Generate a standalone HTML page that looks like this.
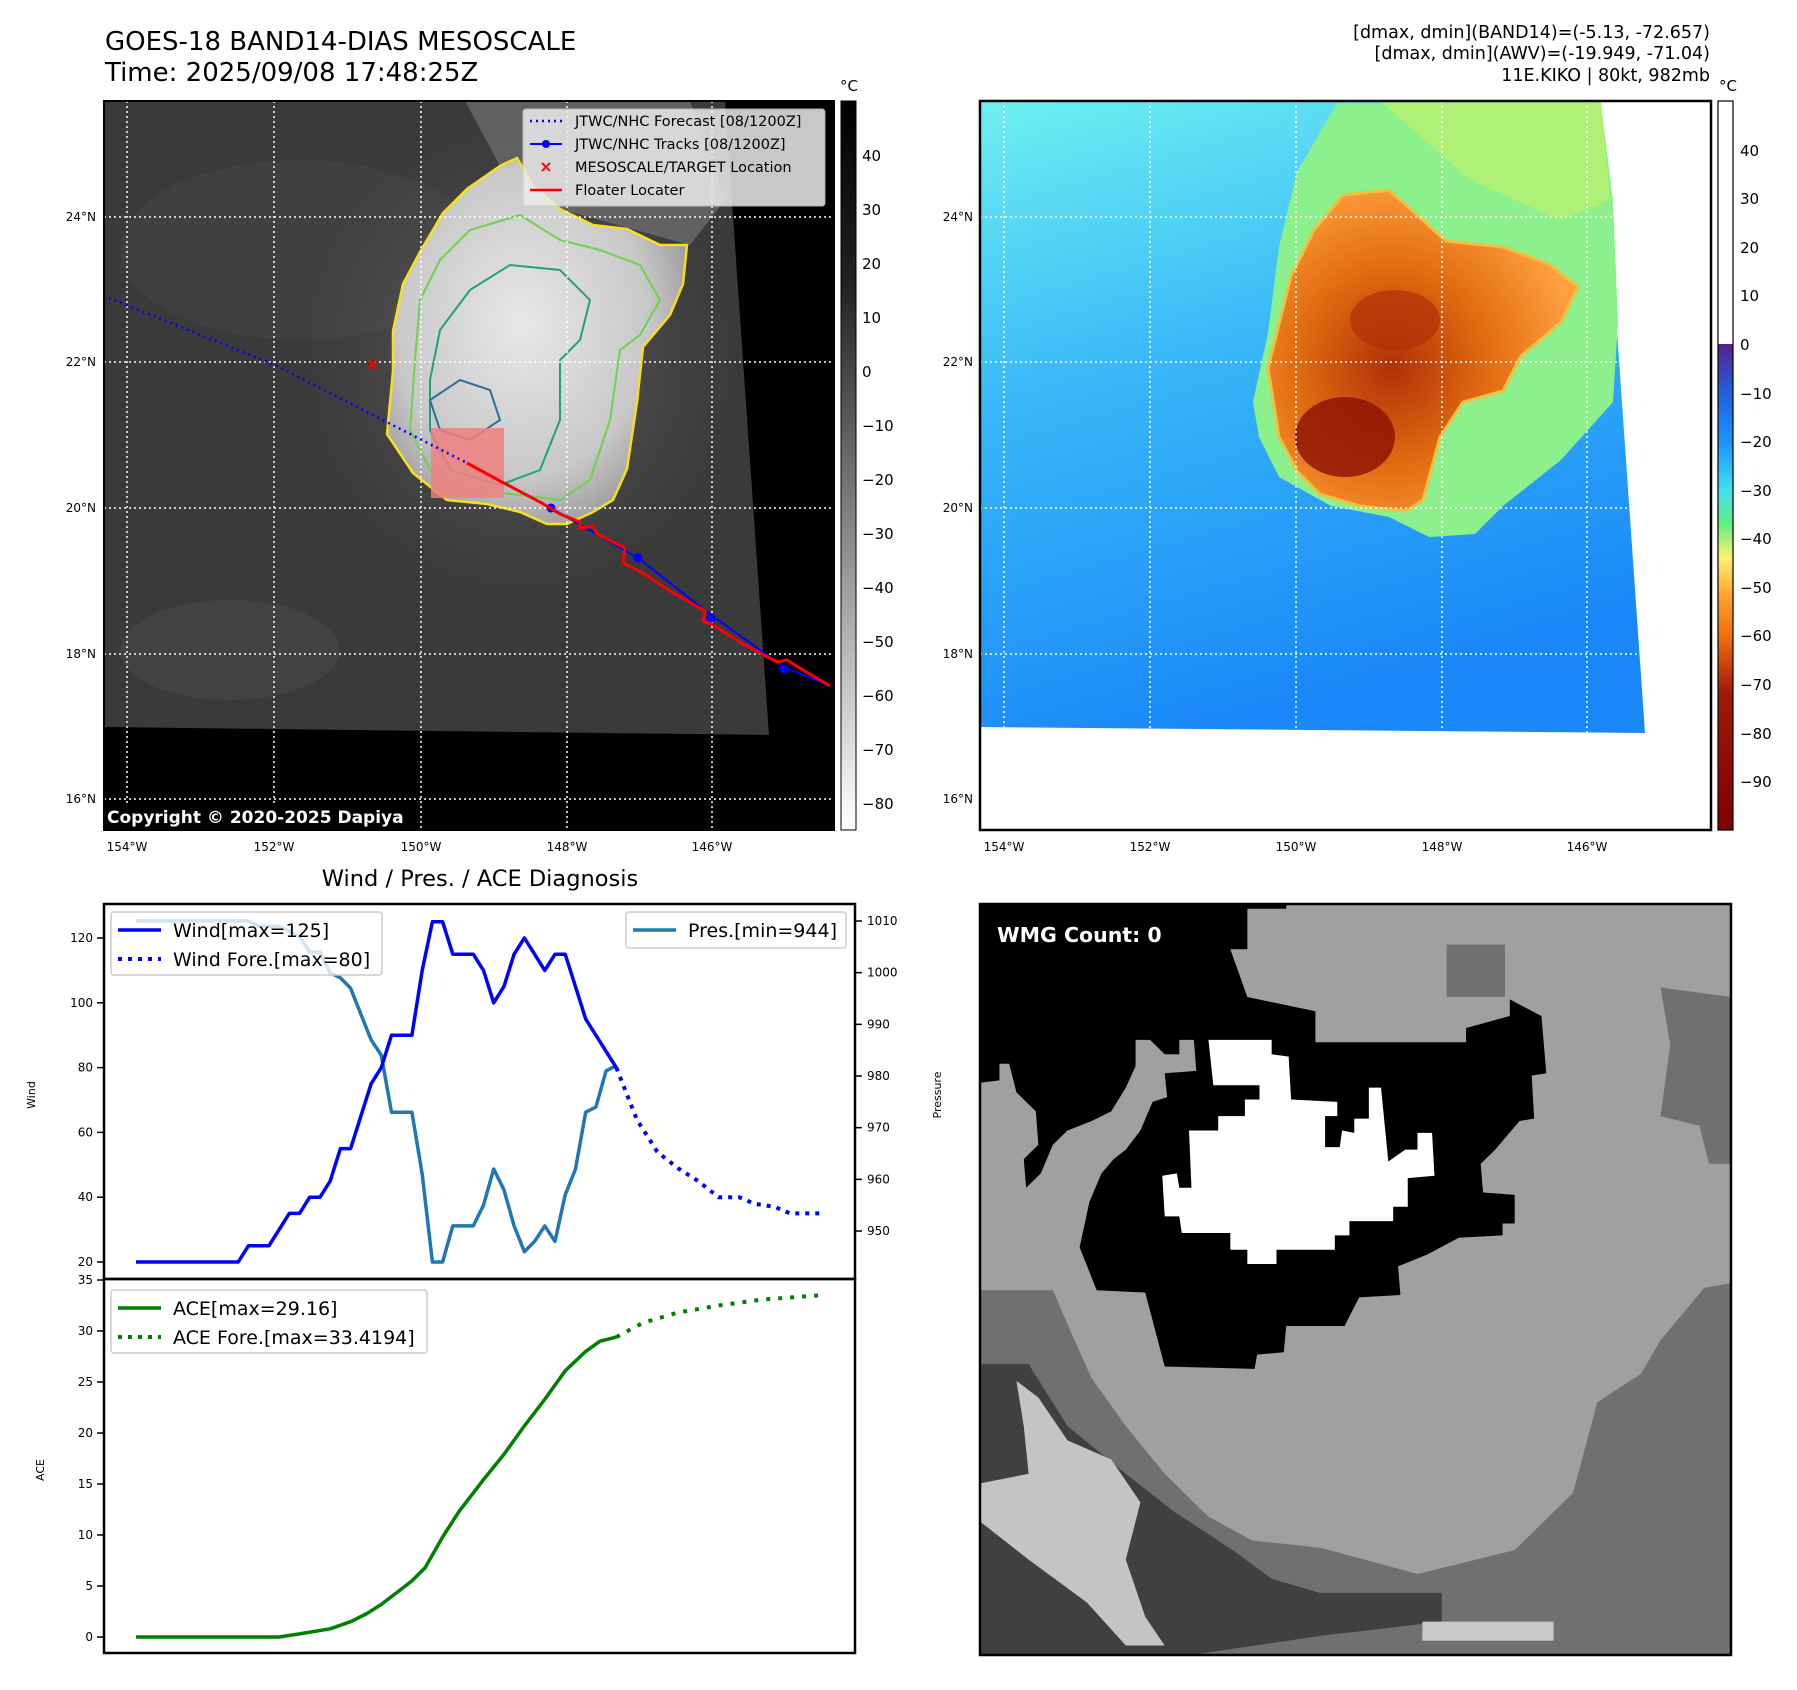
<!DOCTYPE html>
<html><head><meta charset="utf-8"><style>
html,body{margin:0;padding:0;background:#fff}
svg{display:block}
text{font-family:"DejaVu Sans","Liberation Sans",sans-serif}
</style></head><body>
<svg id="root" width="1797" height="1690" viewBox="0 0 1797 1690" xmlns="http://www.w3.org/2000/svg">
<defs>
<linearGradient id="cbGray" x1="0" y1="0" x2="0" y2="1"><stop offset="0" stop-color="#000"/><stop offset="0.25" stop-color="#222"/><stop offset="0.6" stop-color="#8a8a8a"/><stop offset="1" stop-color="#fff"/></linearGradient>
<linearGradient id="cbColor" x1="0" y1="0" x2="0" y2="1">
<stop offset="0" stop-color="#5a1e8c"/><stop offset="0.1" stop-color="#2060e0"/><stop offset="0.2" stop-color="#1e90ff"/><stop offset="0.3" stop-color="#40e0f0"/><stop offset="0.37" stop-color="#60f080"/><stop offset="0.44" stop-color="#fff070"/><stop offset="0.52" stop-color="#ffa030"/><stop offset="0.6" stop-color="#f07010"/><stop offset="0.72" stop-color="#a01808"/><stop offset="1" stop-color="#800000"/></linearGradient>
<linearGradient id="bgBlue" x1="0" y1="0" x2="0.3" y2="1"><stop offset="0" stop-color="#70f0f0"/><stop offset="0.45" stop-color="#38b8f8"/><stop offset="1" stop-color="#1a88f8"/></linearGradient>
<radialGradient id="irBlob" cx="0.45" cy="0.45" r="0.6"><stop offset="0" stop-color="#e8e8e8"/><stop offset="0.7" stop-color="#c8c8c8"/><stop offset="1" stop-color="#9a9a9a"/></radialGradient>
<radialGradient id="irHalo" cx="0.5" cy="0.5" r="0.5"><stop offset="0" stop-color="#777" stop-opacity="0.7"/><stop offset="1" stop-color="#555" stop-opacity="0"/></radialGradient>
<radialGradient id="orBlob" cx="0.4" cy="0.55" r="0.6"><stop offset="0" stop-color="#b03008"/><stop offset="0.5" stop-color="#e06a10"/><stop offset="1" stop-color="#ffa040"/></radialGradient>
</defs>

<!-- Titles -->
<text x="105" y="50" font-size="26">GOES-18 BAND14-DIAS MESOSCALE</text>
<text x="105" y="81" font-size="26">Time: 2025/09/08 17:48:25Z</text>
<g font-size="17.5" text-anchor="end">
<text x="1710" y="38">[dmax, dmin](BAND14)=(-5.13, -72.657)</text>
<text x="1710" y="59">[dmax, dmin](AWV)=(-19.949, -71.04)</text>
<text x="1710" y="81">11E.KIKO | 80kt, 982mb</text>
</g>

<!-- LEFT MAP -->
<g>
<rect x="104" y="101" width="730" height="729" fill="#000"/>
<polygon points="104,101 725,101 769,735 104,727" fill="#3a3a3a"/>
<ellipse cx="300" cy="250" rx="180" ry="90" fill="#454545" opacity="0.5"/>
<ellipse cx="230" cy="650" rx="110" ry="50" fill="#4a4a4a" opacity="0.5"/>
<ellipse cx="520" cy="360" rx="220" ry="240" fill="url(#irHalo)"/>
<polygon points="465,101 690,101 725,200 690,245 560,209 500,166" fill="#7a7a7a" opacity="0.6"/>
<polygon points="403,284 420,252 443,213 467,189 500,166 517,158 533,186 560,209 593,225 627,229 660,245 687,245 683,284 670,315 643,347 637,402 627,469 613,500 593,512 567,524 547,524 520,512 487,504 447,500 413,473 387,434 393,371 393,331" fill="url(#irBlob)" stroke="#f5e020" stroke-width="2.5"/>
<polygon points="420,300 440,260 470,230 520,215 560,240 600,250 640,265 660,300 640,335 620,350 610,420 590,480 560,500 520,495 470,490 430,470 410,430 415,360" fill="none" stroke="#70d050" stroke-width="2"/>
<polygon points="440,330 470,290 510,265 560,270 590,300 580,340 560,360 560,420 540,470 500,485 450,470 430,430 430,380" fill="none" stroke="#20a080" stroke-width="2"/>
<polygon points="430,400 460,380 490,390 500,420 470,440 440,430" fill="none" stroke="#2a7090" stroke-width="2"/>
<rect x="431" y="428" width="73" height="70" fill="#f08080" opacity="0.85"/>
<g stroke="#fff" stroke-width="1.5" stroke-dasharray="2,3">
<line x1="127" y1="101" x2="127" y2="830"/><line x1="274" y1="101" x2="274" y2="830"/><line x1="421" y1="101" x2="421" y2="830"/><line x1="567" y1="101" x2="567" y2="830"/><line x1="712" y1="101" x2="712" y2="830"/>
<line x1="104" y1="217" x2="834" y2="217"/><line x1="104" y1="362" x2="834" y2="362"/><line x1="104" y1="508" x2="834" y2="508"/><line x1="104" y1="654" x2="834" y2="654"/><line x1="104" y1="799" x2="834" y2="799"/>
</g>
<polyline points="109,298 275,365 467,463 551,508" fill="none" stroke="#0000ff" stroke-width="2.5" stroke-dasharray="2,4"/>
<polyline points="551,508 638,558 711,615 784,667 830,686" fill="none" stroke="#0000ff" stroke-width="2"/>
<g fill="#0000ff"><circle cx="551" cy="508" r="4.5"/><circle cx="638" cy="558" r="4.5"/><circle cx="711" cy="618" r="4.5"/><circle cx="784" cy="669" r="4.5"/></g>
<polyline points="467,463 500,481 540,502 560,514 580,522 580,528 593,526 597,534 625,548 623,563 643,573 670,591 705,611 703,621 713,625 743,644 777,662 787,660 803,670 830,686" fill="none" stroke="#ff0000" stroke-width="3"/>
<text x="372" y="370" font-size="18" font-weight="bold" fill="#ff0000" text-anchor="middle">×</text>
<g>
<rect x="523" y="109" width="302" height="97" rx="3" fill="#ececec" opacity="0.85" stroke="#ccc"/>
<line x1="530" y1="121" x2="562" y2="121" stroke="#00f" stroke-width="2.5" stroke-dasharray="2,4"/>
<line x1="530" y1="144" x2="562" y2="144" stroke="#00f" stroke-width="2"/><circle cx="546" cy="144" r="4" fill="#00f"/>
<text x="546" y="172" font-size="16" font-weight="bold" fill="#f00" text-anchor="middle">×</text>
<line x1="530" y1="190" x2="562" y2="190" stroke="#f00" stroke-width="2.5"/>
<g font-size="14.5"><text x="575" y="126">JTWC/NHC Forecast [08/1200Z]</text><text x="575" y="149">JTWC/NHC Tracks [08/1200Z]</text><text x="575" y="172">MESOSCALE/TARGET Location</text><text x="575" y="195">Floater Locater</text></g>
</g>
<rect x="104" y="805" width="312" height="25" fill="#000"/>
<text x="107" y="823" font-size="17" font-weight="bold" fill="#fff">Copyright © 2020-2025 Dapiya</text>
<rect x="104" y="101" width="730" height="729" fill="none" stroke="#000" stroke-width="2"/>
</g>
<g font-size="12">
<g text-anchor="end"><text x="96" y="221">24°N</text><text x="96" y="366">22°N</text><text x="96" y="512">20°N</text><text x="96" y="658">18°N</text><text x="96" y="803">16°N</text></g>
<g text-anchor="middle"><text x="127" y="851">154°W</text><text x="274" y="851">152°W</text><text x="421" y="851">150°W</text><text x="567" y="851">148°W</text><text x="712" y="851">146°W</text></g>
</g>
<g>
<rect x="841" y="101" width="15" height="729" fill="url(#cbGray)" stroke="#000" stroke-width="1"/>
<text x="849" y="91" font-size="15" text-anchor="middle">°C</text>
<g font-size="15"><text x="862" y="161">40</text><text x="862" y="215">30</text><text x="862" y="269">20</text><text x="862" y="323">10</text><text x="862" y="377">0</text><text x="862" y="431">−10</text><text x="862" y="485">−20</text><text x="862" y="539">−30</text><text x="862" y="593">−40</text><text x="862" y="647">−50</text><text x="862" y="701">−60</text><text x="862" y="755">−70</text><text x="862" y="809">−80</text></g>
</g>

<!-- RIGHT MAP -->
<g>
<rect x="980" y="101" width="731" height="729" fill="#fff"/>
<polygon points="980,101 1601,101 1645,733 980,727" fill="url(#bgBlue)"/>
<polygon points="1253,402 1268,333 1279,247 1297,172 1337,103 1601,103 1613,201 1618,322 1613,402 1561,460 1503,506 1475,534 1429,537 1389,517 1331,506 1279,477 1259,437" fill="#8cf08c"/>
<polygon points="1380,101 1601,101 1610,200 1560,220 1470,180" fill="#b8f070" opacity="0.8"/>
<polygon points="1268,368 1291,276 1314,230 1343,195 1389,190 1446,241 1503,247 1549,264 1578,287 1561,322 1521,356 1503,391 1463,402 1440,437 1423,500 1406,511 1360,506 1320,494 1297,471 1279,437" fill="url(#orBlob)" stroke="#f0c040" stroke-width="3"/>
<ellipse cx="1345" cy="437" rx="50" ry="40" fill="#8a1004" opacity="0.8"/>
<ellipse cx="1395" cy="320" rx="45" ry="30" fill="#b03008" opacity="0.7"/>
<g stroke="#fff" stroke-width="1.5" stroke-dasharray="2,3">
<line x1="1004" y1="101" x2="1004" y2="727"/><line x1="1150" y1="101" x2="1150" y2="730"/><line x1="1296" y1="101" x2="1296" y2="730"/><line x1="1442" y1="101" x2="1442" y2="733"/><line x1="1587" y1="101" x2="1587" y2="733"/>
<line x1="980" y1="217" x2="1615" y2="217"/><line x1="980" y1="362" x2="1625" y2="362"/><line x1="980" y1="508" x2="1635" y2="508"/><line x1="980" y1="654" x2="1642" y2="654"/>
</g>
<rect x="980" y="101" width="731" height="729" fill="none" stroke="#000" stroke-width="2.5"/>
</g>
<g font-size="12">
<g text-anchor="end"><text x="973" y="221">24°N</text><text x="973" y="366">22°N</text><text x="973" y="512">20°N</text><text x="973" y="658">18°N</text><text x="973" y="803">16°N</text></g>
<g text-anchor="middle"><text x="1004" y="851">154°W</text><text x="1150" y="851">152°W</text><text x="1296" y="851">150°W</text><text x="1442" y="851">148°W</text><text x="1587" y="851">146°W</text></g>
</g>
<g>
<rect x="1718" y="101" width="15" height="243" fill="#fff"/>
<rect x="1718" y="344" width="15" height="486" fill="url(#cbColor)"/>
<rect x="1718" y="101" width="15" height="729" fill="none" stroke="#000" stroke-width="1.2"/>
<text x="1728" y="91" font-size="15" text-anchor="middle">°C</text>
<g font-size="15"><text x="1740" y="156">40</text><text x="1740" y="204">30</text><text x="1740" y="253">20</text><text x="1740" y="301">10</text><text x="1740" y="350">0</text><text x="1740" y="399">−10</text><text x="1740" y="447">−20</text><text x="1740" y="496">−30</text><text x="1740" y="544">−40</text><text x="1740" y="593">−50</text><text x="1740" y="641">−60</text><text x="1740" y="690">−70</text><text x="1740" y="739">−80</text><text x="1740" y="787">−90</text></g>
</g>

<!-- BOTTOM RIGHT WMG -->
<svg x="980" y="904" width="751" height="751" viewBox="0 5 1545 1575" preserveAspectRatio="none">
<rect x="0" y="0" width="1545" height="1585" fill="#a0a0a0"/>
<rect x="960" y="90" width="120" height="110" fill="#707070"/>
<polygon points="1400,180 1545,200 1545,550 1500,550 1480,470 1400,450 1420,300" fill="#707070"/>
<polygon points="0,815 150,815 190,910 230,1000 300,1100 380,1200 470,1290 560,1340 700,1355 900,1410 1100,1360 1220,1240 1270,1050 1360,990 1400,920 1490,810 1545,800 1545,1585 0,1585" fill="#707070"/>
<polygon points="0,970 100,970 180,1100 300,1200 400,1280 520,1360 600,1420 700,1450 950,1450 950,1510 700,1540 400,1585 0,1585" fill="#404040"/>
<polygon points="75,1005 120,1040 180,1130 270,1170 330,1260 300,1380 340,1500 380,1560 300,1560 220,1470 100,1380 0,1300 0,1220 100,1200 90,1100" fill="#c4c4c4"/>
<rect x="910" y="1510" width="270" height="40" fill="#c8c8c8"/>
<polygon points="0,5 630,5 630,15 550,15 550,100 515,100 550,200 690,230 690,295 1000,295 1000,265 1090,240 1090,205 1155,240 1165,360 1135,365 1140,455 1110,460 1060,520 1030,550 1035,610 1100,615 1100,675 1075,675 1075,700 985,705 920,740 860,765 865,825 780,830 750,890 630,890 625,945 570,950 565,980 380,975 340,820 240,815 205,725 225,630 250,570 275,540 300,520 330,480 355,420 385,410 380,360 445,355 440,290 410,290 410,320 380,320 350,290 320,290 320,345 300,390 270,440 230,460 180,480 150,510 125,570 95,600 90,540 120,510 115,440 75,400 60,340 40,340 40,375 0,380" fill="#000"/>
<polygon points="470,290 600,290 600,320 635,325 640,415 735,420 735,450 710,450 710,515 740,515 745,480 770,485 770,455 800,455 800,390 825,390 840,545 875,520 900,520 900,485 930,485 935,575 880,580 880,640 850,640 850,670 760,670 760,700 730,700 730,730 610,730 610,760 550,760 550,730 515,730 515,695 415,695 410,660 380,660 375,575 405,570 410,600 435,600 430,480 490,480 490,450 545,450 545,415 575,415 575,385 480,385" fill="#fff"/>
</svg>
<rect x="980" y="904" width="751" height="751" fill="none" stroke="#000" stroke-width="2.5"/>
<text x="997" y="942" font-size="20.5" font-weight="bold" fill="#fff">WMG Count: 0</text>

<!-- TIME SERIES -->
<text x="480" y="886" font-size="22.5" text-anchor="middle">Wind / Pres. / ACE Diagnosis</text>
<g id="chart"></g>
</svg>

<script>
// Wind (kt) observed
const windIdx = [0,10,11,13,15,16,17,18,19,20,21,23,24,25,27,28,29,30,31,33,34,35,36,37,38,40,41,42,43,44,47];
const windVal = [20,20,25,25,35,35,40,40,45,55,55,75,80,90,90,110,125,125,115,115,110,100,105,115,120,110,115,115,105,95,80];
// Wind forecast
const windForeIdx = [47,49,51,53,55,57,59,60.5,62.5,64,67];
const windForeVal = [80,64,54,49,45,40,40,38,37,35,35];
// Pressure (mb)
const presIdx = [0,11,12,14,15,16,17,18,19,20,21,22,23,24,25,27,28,29,30,31,33,34,35,36,37,38,39,40,41,42,43,44,45,46,47];
const presVal = [1010,1010,1009,1009,1008,1007,1004,1004,1000,999,997,992,987,984,973,973,961,944,944,951,951,955,962,958,951,946,948,951,948,957,962,973,974,981,982];
// ACE
const aceIdx = [0,14,16,19,21,22.6,24,25.7,27,28.3,30,31.6,33.9,36,38,40,42,44,45.4,47];
const aceVal = [0,0,0.3,0.8,1.5,2.3,3.2,4.5,5.5,6.8,9.8,12.3,15.3,17.9,20.7,23.3,26.1,28.0,29.0,29.4];
const aceForeIdx = [47,49.6,53,57,61.4,67];
const aceForeVal = [29.4,30.8,31.8,32.5,33.1,33.5];
const windTicks = [20,40,60,80,100,120];
const presTicks = [950,960,970,980,990,1000,1010];
const aceTicks = [0,5,10,15,20,25,30,35];

const NS = 'http://www.w3.org/2000/svg';
const chart = document.getElementById('chart');
const X = i => 136 + i * 10.22;
const yW = v => 1262 - (v - 20) * 3.24;
const yP = p => 921 + (1010 - p) * 5.167;
const yA = a => 1637 - a * 10.2;

function mk(tag, attrs, parent) {
  const e = document.createElementNS(NS, tag);
  for (const k in attrs) e.setAttribute(k, attrs[k]);
  (parent || chart).appendChild(e);
  return e;
}
function pts(ix, vals, fy) { return ix.map((t, k) => X(t).toFixed(1) + ',' + fy(vals[k]).toFixed(1)).join(' '); }

const f1 = mk('rect', {x:104, y:904, width:751, height:375, fill:'none', stroke:'#000', 'stroke-width':2.5});


const f2 = mk('rect', {x:104, y:1279, width:751, height:374, fill:'none', stroke:'#000', 'stroke-width':2.5});



windTicks.forEach(v => {
  mk('line', {x1:97, x2:104, y1:yW(v), y2:yW(v), stroke:'#000', 'stroke-width':1.5});
  const t = mk('text', {x:93, y:yW(v)+4, 'font-size':12, 'text-anchor':'end'});
  t.textContent = v;
  
  
});
presTicks.forEach(v => {
  mk('line', {x1:855, x2:862, y1:yP(v), y2:yP(v), stroke:'#000', 'stroke-width':1.5});
  const t = mk('text', {x:867, y:yP(v)+4, 'font-size':12});
  t.textContent = v;
  
  
});
aceTicks.forEach(v => {
  mk('line', {x1:97, x2:104, y1:yA(v), y2:yA(v), stroke:'#000', 'stroke-width':1.5});
  const t = mk('text', {x:93, y:yA(v)+4, 'font-size':12, 'text-anchor':'end'});
  t.textContent = v;
  
  
});
const yl1 = mk('text', {x:0, y:0, 'font-size':11, 'text-anchor':'middle', transform:'translate(35,1095) rotate(-90)'});
yl1.textContent = 'Wind';


const yl2 = mk('text', {x:0, y:0, 'font-size':11, 'text-anchor':'middle', transform:'translate(941,1095) rotate(-90)'});
yl2.textContent = 'Pressure';


const yl3 = mk('text', {x:0, y:0, 'font-size':11, 'text-anchor':'middle', transform:'translate(44,1470) rotate(-90)'});
yl3.textContent = 'ACE';



const pl = mk('polyline', {points:pts(presIdx, presVal, yP), fill:'none', stroke:'#1f77b4', 'stroke-width':3.5, 'stroke-linejoin':'round'});


const wl = mk('polyline', {points:pts(windIdx, windVal, yW), fill:'none', stroke:'#0000ff', 'stroke-width':3.5, 'stroke-linejoin':'round'});


const wf = mk('polyline', {points:pts(windForeIdx, windForeVal, yW), fill:'none', stroke:'#0000ff', 'stroke-width':4, 'stroke-dasharray':'4,6'});


const al = mk('polyline', {points:pts(aceIdx, aceVal, yA), fill:'none', stroke:'#008000', 'stroke-width':3.5, 'stroke-linejoin':'round'});


const af = mk('polyline', {points:pts(aceForeIdx, aceForeVal, yA), fill:'none', stroke:'#008000', 'stroke-width':4, 'stroke-dasharray':'4,8'});



function legend(name, x, y, w, h, items) {
  const g = mk('g', {});
  
  
  mk('rect', {x:x, y:y, width:w, height:h, rx:3, fill:'#fff', 'fill-opacity':0.8, stroke:'#ccc', 'stroke-width':1.5}, g);
  items.forEach((it, k) => {
    const yy = y + 18 + k * 29;
    const a = {x1:x+7, x2:x+50, y1:yy, y2:yy, stroke:it.c, 'stroke-width':it.d ? 4 : 3.5};
    if (it.d) a['stroke-dasharray'] = '4,6';
    mk('line', a, g);
    const t = mk('text', {x:x+62, y:yy+7, 'font-size':19}, g);
    t.textContent = it.t;
  });
}
legend('wind-legend', 111, 912, 271, 63, [{c:'#0000ff', t:'Wind[max=125]'}, {c:'#0000ff', d:1, t:'Wind Fore.[max=80]'}]);
legend('pressure-legend', 626, 912, 220, 36, [{c:'#1f77b4', t:'Pres.[min=944]'}]);
legend('ace-legend', 111, 1290, 316, 63, [{c:'#008000', t:'ACE[max=29.16]'}, {c:'#008000', d:1, t:'ACE Fore.[max=33.4194]'}]);
</script>
</body></html>
